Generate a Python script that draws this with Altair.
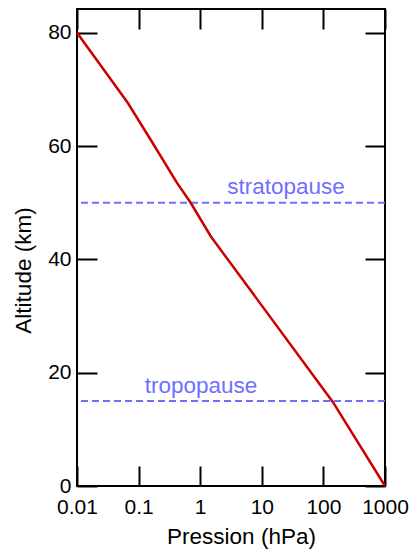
import altair as alt
import pandas as pd

# Red profile: altitude (km) vs pressure (hPa)
altitude = [0, 14.8, 44.0, 50.0, 53.5, 60.5, 67.6, 73.8, 80.0]
pressure = [1000, 143, 1.5, 0.70, 0.42, 0.17, 0.067, 0.026, 0.01]

# Reference levels
level_alt = [15, 50]
label_text = ["tropopause", "stratopause"]
label_press = [1.03, 24.7]
label_alt = [16.4, 51.6]

x_ticks = [0.01, 0.1, 1, 10, 100, 1000]
y_ticks = [0, 20, 40, 60, 80]

FONT = "Liberation Sans"
BLUE = "#6f6fff"

profile = pd.DataFrame({"alt": altitude, "p": pressure})
levels = pd.DataFrame({"alt": level_alt})
labels = pd.DataFrame({"t": label_text, "p": label_press, "alt": label_alt})

xscale = alt.Scale(type="log", domain=[0.01, 1000], nice=False)
yscale = alt.Scale(domain=[0, 84.2], nice=False, zero=False)

common_axis = dict(
    tickSize=20, tickWidth=2, tickColor="black", domain=False, grid=False,
    offset=-20, labelFont=FONT, labelFontSize=21, labelColor="black",
    labelOverlap=False, labelFlush=False, labelBound=False,
    titleFont=FONT, titleFontSize=22.5, titleFontWeight="normal", titleColor="black",
)

line = alt.Chart(profile).mark_line(color="#cc0000", strokeWidth=2.5).encode(
    x=alt.X("p:Q", scale=xscale,
            axis=alt.Axis(orient="bottom", values=x_ticks, format="~g",
                          title="Pression (hPa)", labelPadding=10, titlePadding=8,
                          titleX=164, **common_axis)),
    y=alt.Y("alt:Q", scale=yscale,
            axis=alt.Axis(orient="left", values=y_ticks, title="Altitude (km)",
                          labelPadding=6, titlePadding=12, titleY=261, **common_axis)),
    order="alt:Q",
)

rules = alt.Chart(levels).mark_rule(color=BLUE, strokeWidth=2, strokeDash=[7, 4]).encode(
    y=alt.Y("alt:Q", scale=yscale, axis=None),
)

text = alt.Chart(labels).mark_text(
    color=BLUE, font=FONT, fontSize=22.5, align="center", baseline="alphabetic"
).encode(
    x=alt.X("p:Q", scale=xscale,
            axis=alt.Axis(orient="top", values=x_ticks, labels=False, title=None,
                          **common_axis)),
    y=alt.Y("alt:Q", scale=yscale,
            axis=alt.Axis(orient="right", values=y_ticks, labels=False, title=None,
                          **common_axis)),
    text="t:N",
)

chart = alt.layer(rules, line, text).resolve_axis(
    x="independent", y="independent"
).properties(
    width=308, height=477,
    autosize=alt.AutoSizeParams(type="none"),
    padding={"left": 77, "top": 9, "right": 26, "bottom": 64},
).configure_view(stroke="black", strokeWidth=2)

chart.save("out.html", embed_options={"renderer": "svg", "actions": False})
